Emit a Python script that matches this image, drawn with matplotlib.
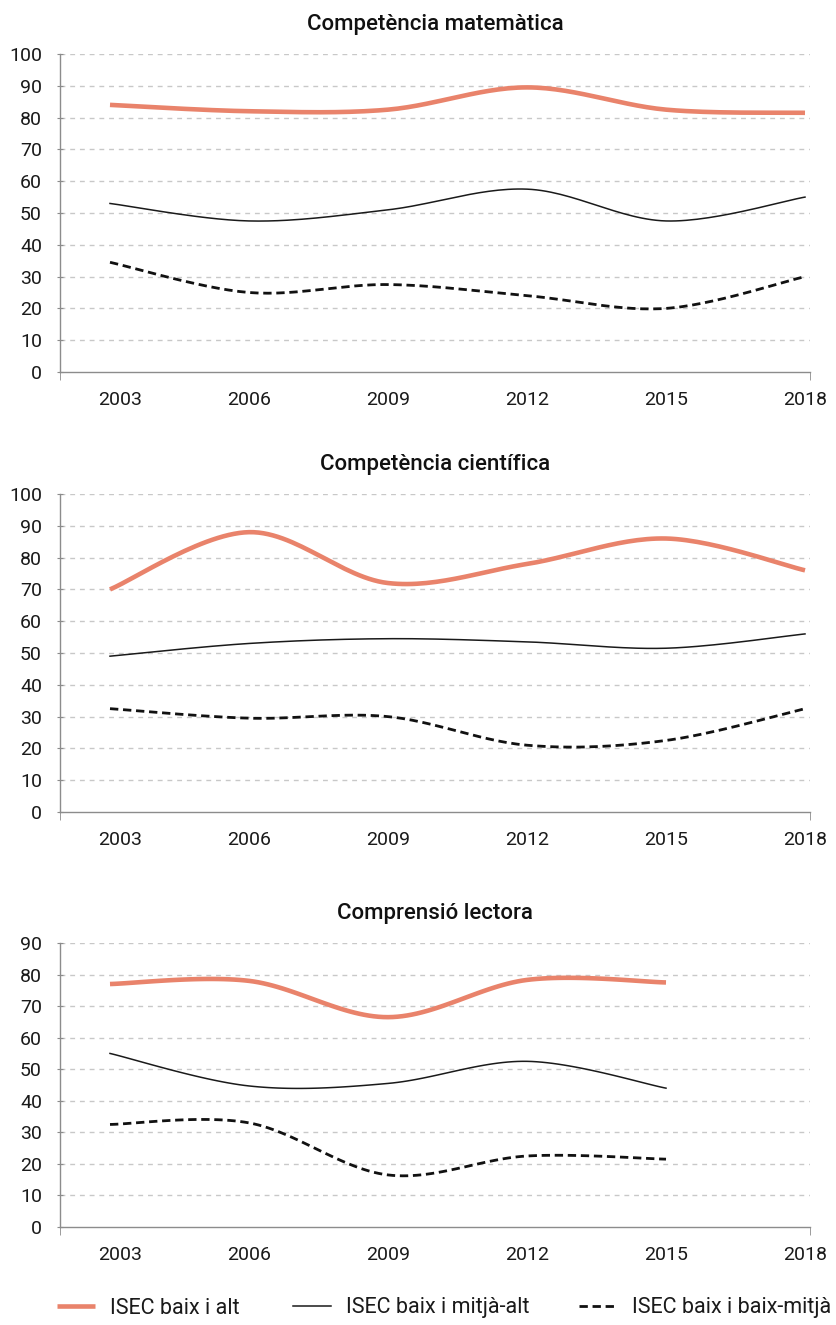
import numpy as np
import matplotlib
matplotlib.use("Agg")
import matplotlib.pyplot as plt
import matplotlib.transforms as mtransforms

years = [2003, 2006, 2009, 2012, 2015, 2018]
year_labels = ["2003", "2006", "2009", "2012", "2015", "2018"]

titles = ["Competència matemàtica", "Competència científica", "Comprensió lectora"]
series_names = ["ISEC baix i alt", "ISEC baix i mitjà-alt", "ISEC baix i baix-mitjà"]

mat_alt = [84, 82, 82.5, 89.5, 82.5, 81.5]
mat_mitja_alt = [53, 47.5, 51, 57.5, 47.5, 55]
mat_baix_mitja = [34.5, 25, 27.5, 24, 20, 30]

cie_alt = [70, 88, 72, 78, 86, 76]
cie_mitja_alt = [49, 53, 54.5, 53.5, 51.5, 56]
cie_baix_mitja = [32.5, 29.5, 30, 21, 22.5, 32.5]

lec_alt = [77, 78, 66.5, 78.3, 77.5, np.nan]
lec_mitja_alt = [55, 44.7, 45.5, 52.5, 44, np.nan]
lec_baix_mitja = [32.5, 33, 16.5, 22.5, 21.5, np.nan]

panels = [
    (mat_alt, mat_mitja_alt, mat_baix_mitja, 100),
    (cie_alt, cie_mitja_alt, cie_baix_mitja, 100),
    (lec_alt, lec_mitja_alt, lec_baix_mitja, 90),
]

plt.rcParams['font.family'] = ['Roboto', 'DejaVu Sans']


def smooth(x, y, n=30):
    x = np.asarray(x, float); y = np.asarray(y, float)
    m = ~np.isnan(y)
    x, y = x[m], y[m]
    px = np.concatenate([[x[0]], x, [x[-1]]])
    py = np.concatenate([[y[0]], y, [y[-1]]])
    xs, ys = [], []
    for i in range(1, len(px) - 2):
        p0 = np.array([px[i - 1], py[i - 1]]); p1 = np.array([px[i], py[i]])
        p2 = np.array([px[i + 1], py[i + 1]]); p3 = np.array([px[i + 2], py[i + 2]])
        c1 = p1 + (p2 - p0) / 6.0
        c2 = p2 - (p3 - p1) / 6.0
        t = np.linspace(0, 1, n)[:, None]
        b = (1 - t) ** 3 * p1 + 3 * (1 - t) ** 2 * t * c1 + 3 * (1 - t) * t ** 2 * c2 + t ** 3 * p2
        xs.append(b[:, 0]); ys.append(b[:, 1])
    return np.concatenate(xs), np.concatenate(ys)


W, H = 836, 1325
fig = plt.figure(figsize=(W / 100, H / 100), dpi=100)

boxes = [(54, 372), (494, 812), (943, 1227)]
left_px, right_px = 60, 810
orange = '#E9836B'
grid_c = '#C8C8C8'
axis_c = '#8C8C8C'
text_c = '#1a1a1a'

px_per_year = (805 - 110) / 15.0
x0 = 2003 - (110 - left_px) / px_per_year
x1 = 2018 + (right_px - 805) / px_per_year

handles = None
for (alt, ma, bm, ymax), (top, bot), title in zip(panels, boxes, titles):
    ax = fig.add_axes([left_px / W, 1 - bot / H, (right_px - left_px) / W, (bot - top) / H])
    ax.set_xlim(x0, x1)
    ax.set_ylim(0, ymax)
    for v in range(10, ymax + 1, 10):
        ax.axhline(v, color=grid_c, lw=1.0, ls=(0, (3.5, 3.5)), zorder=0)
    sx, sy = smooth(years, alt)
    l1, = ax.plot(sx, sy, color=orange, lw=3.3, solid_capstyle='butt', zorder=3)
    sx, sy = smooth(years, ma)
    l2, = ax.plot(sx, sy, color='#1a1a1a', lw=1.1, zorder=3)
    sx, sy = smooth(years, bm)
    l3, = ax.plot(sx, sy, color='#111111', lw=2.0, ls=(0, (3, 1.7)), zorder=3)
    handles = [l1, l2, l3]
    for s in ['top', 'right']:
        ax.spines[s].set_visible(False)
    for s in ['left', 'bottom']:
        ax.spines[s].set_color(axis_c)
        ax.spines[s].set_linewidth(1.0)
    ax.set_yticks(range(0, ymax + 1, 10))
    ax.tick_params(axis='y', length=4, direction='inout', color=axis_c, labelsize=14,
                   pad=11, labelcolor=text_c)
    ax.set_xticks(years)
    ax.set_xticklabels(year_labels)
    ax.tick_params(axis='x', which='major', length=0, labelsize=14, pad=14, labelcolor=text_c)
    first = ax.get_xticklabels()[0]
    first.set_transform(first.get_transform() + mtransforms.ScaledTranslation(10 / 100, 0, fig.dpi_scale_trans))
    ax.set_xticks([x0, 2006, 2009, 2012, 2015, x1], minor=True)
    ax.tick_params(axis='x', which='minor', length=6, color=axis_c)
    ax.set_title(title, fontsize=16, fontweight='medium', pad=17, color='#111111')

leg_x = [57, 293, 579]
for h, name, lx in zip(handles, series_names, leg_x):
    fig.legend([h], [name], loc='center left', bbox_to_anchor=(lx / W, 1 - 1308 / H),
               frameon=False, fontsize=15.5, handlelength=1.75, handletextpad=0.7,
               borderpad=0, borderaxespad=0, labelcolor=text_c)

fig.savefig("out.png", dpi=100, facecolor='white')
